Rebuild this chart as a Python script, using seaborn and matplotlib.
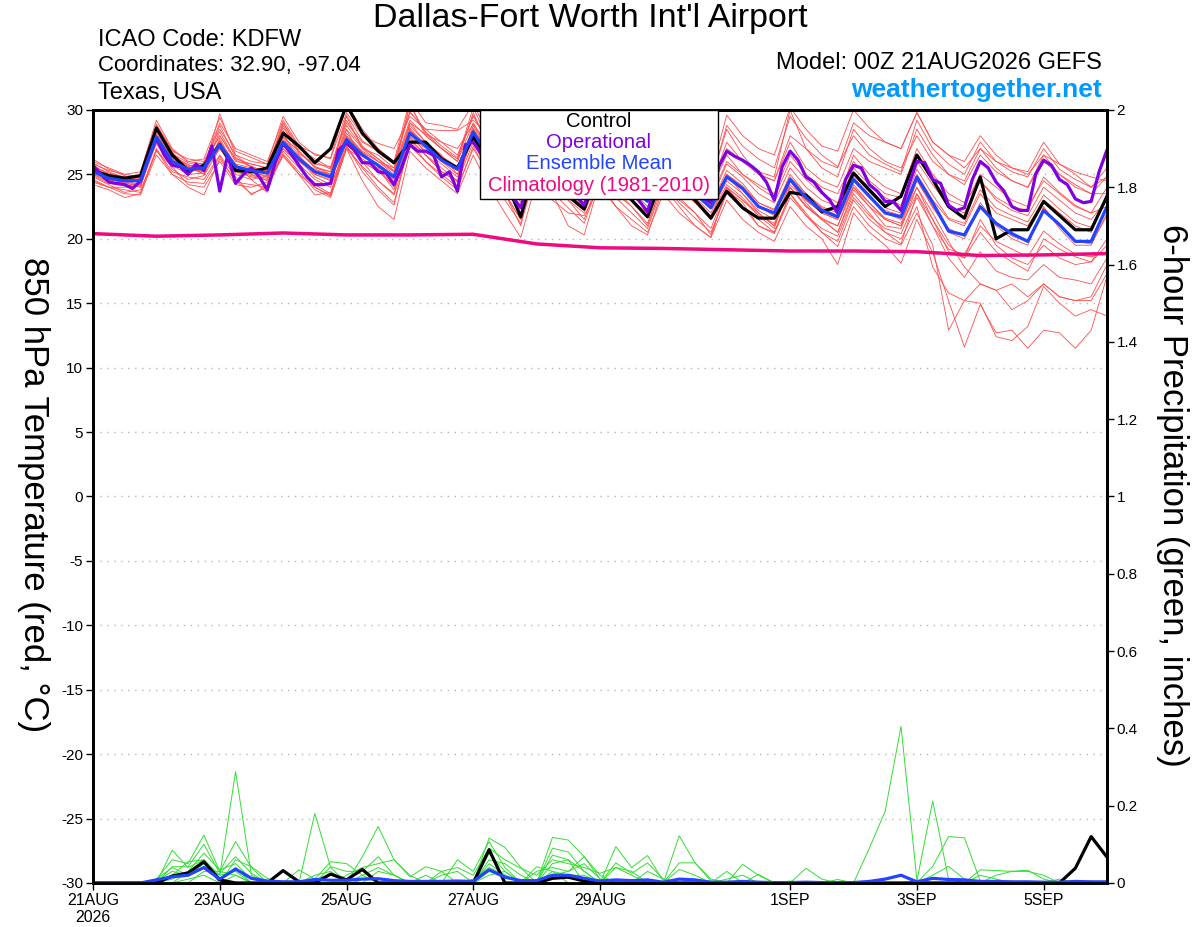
import matplotlib
matplotlib.use('Agg')
import matplotlib.pyplot as plt
import matplotlib.patches as mpatches
import numpy as np
import pandas as pd
import seaborn as sns

#%% data (6-hourly steps from 00Z 21AUG2026, 65 steps)
start = '2026-08-21 00:00'
times = pd.date_range(start, periods=65, freq='6h')
op_times = pd.date_range(start, periods=129, freq='3h')
clim_times = pd.date_range(start, periods=17, freq='1D')

tick_dates = ['2026-08-21', '2026-08-23', '2026-08-25', '2026-08-27',
              '2026-08-29', '2026-09-01', '2026-09-03', '2026-09-05']
tick_labels = ['21AUG\n2026', '23AUG', '25AUG', '27AUG', '29AUG', '1SEP', '3SEP', '5SEP']

# control run 850 hPa temperature
control_t = [25.3, 24.9, 24.7, 24.9, 28.6, 26.5, 25.3, 25.7, 27.3, 25.3, 25.2, 25.5, 28.2, 27.2, 25.9, 27.0,
             30.4, 28.2, 26.8, 25.9, 27.5, 27.5, 26.2, 25.5, 27.9, 26.0, 24.6, 21.7, 26.2, 24.8, 23.3, 22.3,
             25.8, 24.2, 23.0, 21.7, 25.0, 24.0, 23.0, 21.6, 23.7, 22.4, 21.6, 21.6, 23.6, 23.4, 22.1, 22.5,
             25.1, 23.8, 22.5, 23.3, 26.5, 24.6, 22.5, 21.6, 24.8, 20.0, 20.7, 20.7, 22.9, 21.8, 20.7, 20.7,
             23.3]

# ensemble mean
mean_t = [25.2, 24.7, 24.5, 24.5, 27.9, 26.0, 25.4, 25.5, 27.3, 25.6, 25.3, 25.1, 27.5, 26.2, 25.2, 24.8,
          27.7, 26.5, 25.7, 24.8, 28.2, 27.2, 26.1, 25.4, 28.3, 26.3, 25.0, 23.2, 26.8, 25.5, 24.5, 23.3,
          26.3, 25.0, 24.0, 22.9, 25.8, 24.6, 23.5, 22.4, 24.8, 23.9, 22.5, 22.0, 24.6, 23.2, 22.2, 21.7,
          24.6, 23.3, 22.0, 21.7, 24.8, 22.8, 20.6, 20.3, 22.5, 21.2, 20.4, 19.8, 22.2, 21.1, 19.8, 19.8,
          22.5]

# operational run (3-hourly)
oper_t = [25.7, 25.0, 24.4, 24.3, 24.2, 23.9, 24.5, 26.2, 27.8, 26.5, 25.7, 25.6, 25.0, 25.8, 25.3, 27.2,
          23.7, 26.5, 24.3, 25.0, 25.5, 24.8, 23.8, 25.9, 27.4, 26.6, 25.7, 24.8, 24.2, 24.2, 24.3, 26.9,
          27.4, 26.9, 25.9, 25.9, 25.2, 25.1, 24.2, 25.6, 27.3, 26.8, 26.8, 26.5, 24.8, 25.2, 23.7, 27.3,
          27.5, 26.6, 25.6, 24.9, 24.0, 23.2, 22.4, 24.5, 26.6, 26.2, 25.3, 24.6, 23.9, 23.3, 22.6, 24.4,
          26.4, 26.0, 25.1, 24.3, 23.6, 22.9, 22.1, 24.1, 26.3, 25.9, 25.0, 24.2, 23.6, 23.2, 22.8, 25.6,
          26.8, 26.4, 26.1, 25.7, 25.2, 24.4, 23.0, 25.6, 26.8, 26.1, 24.8, 24.4, 23.6, 23.0, 22.0, 24.6,
          25.7, 25.5, 24.2, 23.7, 22.9, 22.9, 22.2, 24.2, 26.0, 25.9, 24.6, 24.3, 22.6, 22.2, 22.4, 24.6,
          26.0, 25.5, 24.4, 23.7, 22.5, 22.2, 22.2, 25.0, 26.1, 25.7, 24.6, 24.2, 23.1, 22.8, 22.9, 25.2,
          26.9]

# climatology 1981-2010 (daily)
clim_t = [20.4, 20.2, 20.3, 20.45, 20.3, 20.3, 20.35, 19.6, 19.3, 19.25, 19.15, 19.05, 19.05, 19.0,
          18.7, 18.75, 18.85]

# ensemble members
mem01 = [25.8, 25.3, 25.0, 25.2, 29.2, 27.0, 26.0, 26.2, 29.4, 26.8, 26.3, 25.8, 29.5, 27.5, 26.5, 26.3,
         30.5, 28.5, 27.0, 26.0, 30.8, 29.0, 28.8, 28.5, 30.5, 28.0, 26.5, 25.0, 29.0, 27.5, 26.5, 25.5,
         28.8, 27.0, 26.0, 25.5, 28.5, 27.0, 26.0, 25.0, 29.6, 28.0, 27.0, 26.5, 30.2, 28.5, 27.2, 26.8,
         30.0, 28.6, 27.5, 27.0, 29.8, 27.5, 26.5, 26.0, 28.0, 26.5, 25.5, 25.2, 27.5, 25.8, 25.2, 24.8,
         24.5]
mem02 = [24.2, 23.8, 23.2, 23.5, 26.5, 25.0, 24.0, 23.4, 26.2, 24.5, 23.5, 24.0, 26.5, 25.0, 24.0, 23.3,
         27.0, 24.5, 22.5, 21.5, 26.8, 25.5, 24.5, 23.5, 26.5, 24.0, 22.0, 20.1, 24.5, 23.0, 22.0, 21.8,
         24.0, 22.5, 21.5, 20.5, 23.5, 22.0, 21.0, 20.1, 23.0, 21.5, 20.5, 19.8, 22.5, 21.0, 20.0, 18.0,
         22.0, 20.5, 19.5, 18.1, 21.5, 18.9, 15.2, 11.6, 14.9, 12.7, 12.9, 11.5, 12.9, 12.7, 11.5, 12.9,
         17.1]
mem03 = [25.5, 24.8, 24.2, 24.0, 28.0, 26.3, 25.8, 25.0, 27.8, 25.5, 25.0, 24.5, 28.0, 26.5, 25.0, 24.5,
         28.5, 26.0, 25.5, 24.0, 29.0, 27.5, 26.5, 25.0, 28.5, 26.0, 24.5, 22.5, 26.5, 25.0, 23.8, 22.5,
         25.5, 24.5, 23.0, 21.8, 25.0, 24.0, 23.0, 21.5, 25.0, 23.5, 22.0, 21.0, 24.0, 22.5, 21.5, 20.5,
         23.5, 22.0, 20.5, 20.0, 22.5, 17.8, 15.8, 15.2, 16.5, 16.0, 14.5, 15.2, 16.5, 15.5, 15.2, 15.2,
         17.3]
mem04 = [26.0, 25.5, 25.0, 24.8, 28.8, 26.8, 26.2, 26.0, 28.5, 26.5, 26.0, 25.8, 28.6, 27.0, 26.2, 25.5,
         29.0, 27.5, 26.8, 25.8, 29.8, 28.5, 27.5, 26.5, 29.5, 27.5, 26.0, 24.5, 28.5, 27.0, 25.5, 24.8,
         28.0, 26.5, 25.0, 24.0, 27.5, 26.0, 24.8, 23.8, 26.5, 25.0, 24.2, 23.5, 26.5, 25.0, 24.0, 23.5,
         26.0, 24.5, 23.5, 23.2, 26.5, 24.5, 23.0, 22.5, 25.0, 24.0, 23.0, 22.5, 24.5, 23.5, 22.5, 22.0,
         24.0]
mem05 = [24.6, 24.0, 23.8, 23.6, 27.0, 25.2, 24.8, 24.6, 26.5, 24.8, 23.4, 24.2, 26.8, 25.5, 24.2, 23.5,
         27.2, 25.5, 24.0, 22.8, 27.5, 26.0, 25.0, 24.0, 27.0, 25.0, 23.5, 21.5, 25.5, 24.0, 23.0, 22.0,
         25.0, 23.5, 22.5, 21.2, 24.5, 23.0, 22.0, 20.8, 24.0, 22.5, 21.5, 20.5, 23.5, 22.0, 20.5, 19.4,
         22.5, 21.0, 20.0, 19.5, 22.0, 19.5, 12.9, 15.2, 15.0, 12.4, 12.1, 13.2, 16.3, 15.0, 14.0, 14.5,
         14.0]
mem06 = [25.0, 24.5, 24.6, 24.8, 28.4, 26.5, 25.0, 25.8, 28.0, 26.2, 25.8, 25.5, 29.0, 26.8, 25.6, 25.2,
         29.5, 27.0, 26.0, 25.5, 30.5, 28.0, 27.0, 26.0, 29.8, 27.0, 25.5, 24.0, 28.0, 26.5, 25.0, 24.0,
         27.5, 26.0, 25.0, 24.5, 27.0, 25.5, 24.5, 24.0, 27.5, 26.0, 25.0, 24.5, 28.0, 27.0, 26.0, 25.5,
         29.0, 28.0, 27.5, 27.0, 29.8, 27.5, 26.5, 25.5, 27.0, 26.0, 25.5, 25.0, 26.5, 25.8, 25.0, 24.0,
         25.5]
mem07 = [25.2, 24.6, 24.4, 24.2, 27.8, 26.0, 25.4, 25.2, 27.5, 25.4, 25.2, 24.8, 27.2, 26.0, 25.0, 24.6,
         27.5, 26.4, 25.8, 24.6, 28.0, 27.0, 26.0, 25.0, 28.0, 26.0, 24.8, 22.8, 26.5, 25.2, 24.2, 23.0,
         26.0, 24.8, 23.8, 22.5, 25.5, 24.2, 23.2, 22.0, 24.5, 23.5, 22.2, 21.5, 24.2, 23.0, 22.0, 21.5,
         24.5, 23.2, 22.2, 21.8, 25.0, 23.0, 21.5, 21.0, 23.5, 22.0, 21.5, 21.0, 23.0, 22.0, 21.0, 20.5,
         23.5]
mem08 = [24.8, 24.2, 23.6, 23.8, 26.8, 25.6, 24.2, 24.0, 26.0, 24.2, 24.0, 24.4, 26.4, 25.0, 23.4, 23.6,
         27.2, 25.2, 23.8, 22.6, 27.6, 26.5, 25.2, 24.4, 27.5, 25.0, 23.5, 21.5, 25.8, 24.2, 23.0, 21.5,
         24.8, 23.8, 22.5, 21.0, 24.5, 23.2, 22.0, 20.3, 23.8, 22.8, 21.0, 20.5, 23.5, 21.8, 20.5, 19.8,
         23.0, 21.5, 20.5, 19.6, 23.5, 21.5, 19.5, 18.5, 21.5, 19.5, 18.5, 18.0, 19.5, 18.5, 18.0, 18.2,
         19.5]
mem09 = [25.6, 25.0, 24.8, 24.9, 28.2, 26.4, 25.6, 25.9, 28.0, 26.0, 25.8, 25.5, 27.9, 26.8, 25.5, 25.2,
         28.5, 27.0, 26.5, 25.5, 29.2, 28.0, 27.0, 26.0, 29.0, 27.0, 25.5, 23.8, 27.5, 26.2, 25.0, 23.8,
         27.0, 25.5, 24.5, 23.5, 26.5, 25.2, 24.2, 23.0, 25.8, 24.8, 23.5, 22.8, 25.5, 24.0, 23.0, 22.5,
         25.5, 24.2, 23.2, 22.6, 26.0, 24.2, 22.5, 22.0, 24.5, 23.0, 22.2, 21.8, 24.0, 23.0, 22.0, 21.5,
         23.0]
mem10 = [24.4, 24.0, 24.0, 24.1, 27.4, 25.4, 24.6, 24.9, 27.0, 25.8, 24.6, 23.6, 27.0, 25.8, 24.0, 23.4,
         28.0, 26.0, 24.5, 23.5, 28.5, 26.5, 25.5, 24.5, 28.0, 25.5, 23.5, 21.0, 26.0, 23.5, 21.0, 20.3,
         24.5, 22.5, 21.0, 20.3, 24.0, 22.5, 21.0, 20.1, 24.0, 23.0, 22.0, 21.0, 24.0, 22.5, 21.5, 20.5,
         23.8, 22.5, 21.0, 20.8, 24.0, 22.0, 19.8, 17.8, 16.5, 16.0, 16.5, 15.5, 16.5, 15.5, 15.2, 15.5,
         18.0]
mem11 = [26.2, 25.4, 24.9, 24.3, 28.9, 26.9, 26.0, 25.8, 29.0, 27.0, 26.5, 26.0, 29.2, 27.2, 26.6, 26.2,
         29.8, 28.0, 27.4, 27.0, 29.5, 28.5, 28.4, 28.4, 29.2, 28.0, 27.0, 26.0, 29.5, 28.0, 26.5, 25.5,
         29.0, 27.5, 26.5, 25.5, 28.5, 27.0, 25.5, 24.5, 28.5, 26.5, 25.0, 24.5, 27.5, 25.5, 24.5, 24.0,
         27.0, 26.0, 25.5, 25.0, 28.5, 26.5, 25.0, 24.5, 27.0, 25.5, 24.5, 24.0, 26.5, 25.0, 24.0, 23.5,
         24.8]
mem12 = [25.4, 24.9, 24.6, 24.4, 27.6, 25.8, 25.2, 25.4, 27.0, 25.2, 24.8, 24.6, 27.6, 26.2, 24.8, 24.2,
         27.0, 26.2, 25.4, 23.8, 27.8, 26.5, 25.2, 24.5, 28.2, 26.0, 24.0, 22.0, 26.0, 24.5, 23.5, 22.5,
         25.5, 24.2, 23.0, 22.0, 25.2, 24.0, 22.8, 21.5, 24.0, 23.0, 21.8, 20.8, 24.5, 22.8, 21.5, 21.0,
         24.0, 22.8, 21.5, 21.0, 24.5, 22.5, 20.5, 20.0, 22.5, 21.0, 20.0, 19.5, 22.5, 20.8, 19.5, 19.5,
         22.0]
mem13 = [25.0, 24.4, 24.2, 24.6, 28.0, 26.0, 25.6, 25.0, 27.6, 25.0, 24.6, 24.9, 28.2, 26.0, 25.4, 25.0,
         28.0, 26.8, 26.0, 25.2, 28.8, 27.5, 26.2, 25.6, 28.6, 26.5, 25.0, 23.0, 27.0, 25.5, 24.5, 23.5,
         26.5, 25.0, 24.0, 23.0, 26.0, 24.5, 23.5, 22.5, 25.0, 24.0, 22.5, 21.8, 24.5, 23.0, 22.0, 21.5,
         24.0, 22.5, 21.5, 21.0, 23.5, 21.0, 18.5, 17.0, 19.0, 17.5, 17.0, 16.8, 18.0, 17.0, 16.8, 16.5,
         18.5]
mem14 = [25.9, 25.2, 24.7, 24.5, 28.6, 26.7, 25.5, 25.4, 29.7, 26.5, 25.5, 25.3, 28.8, 26.6, 25.8, 25.6,
         29.2, 27.2, 26.2, 25.2, 30.4, 28.2, 27.0, 26.2, 30.2, 27.5, 26.0, 24.2, 28.5, 26.8, 25.8, 24.5,
         28.2, 26.5, 25.5, 24.8, 27.8, 26.5, 25.0, 24.2, 27.0, 26.0, 25.2, 24.8, 30.0, 27.0, 25.5, 24.8,
         28.5, 27.0, 26.0, 25.5, 28.0, 26.0, 25.0, 24.2, 26.5, 25.2, 24.5, 24.0, 26.0, 25.0, 24.2, 23.5,
         23.5]
mem15 = [24.9, 24.3, 24.1, 24.3, 27.5, 25.7, 25.0, 25.1, 27.2, 25.3, 24.9, 24.7, 27.0, 25.8, 24.6, 24.0,
         27.4, 26.0, 25.2, 24.2, 27.9, 26.8, 25.8, 24.8, 27.8, 25.8, 24.5, 22.4, 26.2, 24.8, 23.8, 22.8,
         25.8, 24.5, 23.4, 22.2, 25.2, 24.0, 22.8, 21.8, 24.2, 23.2, 21.8, 21.2, 24.0, 22.6, 21.6, 21.0,
         24.2, 22.8, 21.6, 21.2, 24.6, 22.4, 20.8, 20.2, 22.8, 21.2, 20.2, 19.8, 22.4, 21.0, 19.8, 19.6,
         21.8]
mem16 = [25.6, 25.1, 24.8, 24.6, 28.5, 26.6, 25.9, 25.6, 28.8, 26.3, 25.6, 25.2, 29.0, 27.1, 26.0, 25.4,
         29.6, 27.6, 26.8, 25.9, 29.9, 28.3, 27.2, 26.3, 29.6, 27.2, 25.8, 23.9, 28.6, 26.9, 25.6, 24.6,
         28.5, 26.8, 25.4, 24.4, 28.2, 26.6, 25.3, 24.4, 28.8, 27.2, 26.2, 25.5, 29.5, 27.8, 26.5, 25.6,
         28.0, 26.5, 25.8, 25.2, 29.2, 27.0, 25.8, 25.0, 27.5, 26.0, 25.2, 24.8, 27.0, 25.4, 24.6, 24.0,
         24.8]
mem17 = [25.3, 24.7, 24.3, 24.1, 27.9, 26.1, 25.3, 25.3, 27.4, 25.6, 25.1, 24.9, 27.8, 26.3, 25.2, 24.9,
         28.2, 26.7, 25.6, 24.4, 28.6, 27.2, 26.3, 25.3, 28.8, 26.6, 25.2, 23.5, 27.2, 25.8, 24.8, 23.6,
         26.8, 25.3, 24.3, 23.0, 26.2, 24.8, 23.8, 22.6, 25.3, 24.3, 22.8, 22.2, 25.0, 23.5, 22.4, 21.8,
         24.8, 23.4, 22.0, 21.5, 24.0, 21.5, 19.0, 18.5, 20.5, 19.0, 18.2, 17.5, 20.0, 19.2, 18.6, 18.2,
         20.0]
mem18 = [25.1, 24.6, 24.5, 24.7, 28.1, 26.2, 25.5, 25.6, 27.6, 25.8, 25.5, 25.3, 27.6, 26.4, 25.3, 25.0,
         27.9, 26.7, 26.0, 25.0, 28.4, 27.4, 26.4, 25.6, 28.4, 26.5, 25.2, 23.4, 27.0, 25.7, 24.7, 23.5,
         26.6, 25.2, 24.2, 23.2, 26.0, 24.8, 23.7, 22.6, 25.0, 24.1, 22.8, 22.3, 24.8, 23.5, 22.5, 22.0,
         25.0, 23.6, 22.4, 22.0, 25.4, 23.4, 21.6, 21.2, 23.8, 22.4, 21.8, 21.3, 23.4, 22.3, 21.3, 20.9,
         23.2]
mem19 = [24.5, 24.0, 23.5, 23.4, 26.9, 25.0, 24.4, 24.3, 26.4, 24.4, 24.2, 24.0, 26.6, 25.2, 23.8, 23.2,
         27.0, 25.6, 24.5, 23.4, 27.2, 26.0, 24.8, 23.8, 27.2, 24.8, 23.0, 21.2, 25.2, 23.6, 22.4, 21.2,
         24.6, 23.2, 22.0, 20.8, 24.2, 22.8, 21.6, 20.5, 23.5, 22.5, 21.0, 20.4, 23.2, 21.8, 20.8, 20.2,
         23.2, 21.8, 20.8, 20.4, 23.2, 21.0, 19.2, 18.8, 21.0, 19.8, 19.2, 18.6, 20.6, 19.6, 18.8, 18.6,
         19.0]
mem20 = [25.7, 25.0, 24.6, 24.4, 28.4, 26.5, 25.7, 25.6, 28.3, 26.1, 25.6, 25.0, 28.4, 26.8, 25.6, 25.0,
         28.8, 27.1, 26.2, 25.3, 29.0, 28.1, 27.5, 27.0, 28.9, 26.9, 25.5, 23.5, 27.8, 26.3, 25.2, 24.0,
         27.2, 25.8, 24.8, 23.8, 26.8, 25.4, 24.2, 23.2, 26.0, 25.0, 24.0, 23.2, 26.0, 24.6, 23.5, 22.8,
         26.5, 25.0, 24.0, 23.5, 27.0, 25.0, 23.5, 22.8, 24.5, 23.2, 22.5, 22.2, 24.8, 23.6, 22.6, 22.0,
         22.5]
members_t = [mem01, mem02, mem03, mem04, mem05, mem06, mem07, mem08, mem09, mem10,
             mem11, mem12, mem13, mem14, mem15, mem16, mem17, mem18, mem19, mem20]

# 6-hour precipitation (inches), control and ensemble mean
control_p = [0, 0, 0, 0, 0, 0.018, 0.026, 0.055, 0.008, 0, 0, 0, 0.032, 0.003, 0, 0.023,
             0.008, 0.035, 0, 0, 0, 0, 0, 0, 0, 0.086, 0, 0, 0, 0.012, 0.015, 0.005,
             0, 0, 0, 0, 0, 0, 0, 0, 0, 0, 0, 0, 0, 0, 0, 0,
             0, 0, 0, 0, 0, 0, 0, 0, 0, 0, 0, 0, 0, 0, 0.038, 0.12, 0.067]
mean_p = [0, 0, 0, 0, 0.008, 0.016, 0.02, 0.04, 0.01, 0.036, 0.012, 0.005, 0.003, 0.003, 0.009, 0.007,
          0.007, 0.01, 0.011, 0.006, 0.004, 0.004, 0.004, 0.005, 0.004, 0.034, 0.015, 0.006, 0.006, 0.02, 0.02, 0.012,
          0.005, 0.008, 0.006, 0.008, 0.002, 0.01, 0.008, 0.002, 0.002, 0.004, 0.002, 0.001, 0.001, 0.002, 0.001, 0.001,
          0.001, 0.004, 0.01, 0.02, 0.003, 0.012, 0.009, 0.008, 0.004, 0.004, 0.003, 0.003, 0.002, 0.002, 0.004, 0.003,
          0.003]

# member precipitation, step -> inches (zero elsewhere)
pcp01 = {5: 0.085, 6: 0.04, 7: 0.06, 8: 0.02, 9: 0.288, 10: 0.02, 25: 0.077, 26: 0.03, 29: 0.118,
         30: 0.111, 31: 0.068, 32: 0.01, 49: 0.09, 50: 0.186, 51: 0.405, 52: 0.008}
pcp02 = {4: 0.01, 5: 0.06, 6: 0.05, 7: 0.124, 8: 0.03, 9: 0.107, 10: 0.04, 14: 0.18, 15: 0.04,
         25: 0.116, 26: 0.092, 27: 0.04, 33: 0.094, 34: 0.04, 35: 0.071, 36: 0.005, 52: 0.005,
         53: 0.212, 54: 0.01}
pcp03 = {5: 0.042, 6: 0.042, 7: 0.10, 8: 0.025, 9: 0.068, 10: 0.025, 17: 0.068, 18: 0.146, 19: 0.06,
         20: 0.016, 21: 0.042, 22: 0.03, 29: 0.072, 30: 0.06, 37: 0.122, 38: 0.052, 39: 0.005,
         53: 0.043, 54: 0.12, 55: 0.117, 56: 0.005}
pcp04 = {6: 0.03, 7: 0.077, 8: 0.034, 9: 0.05, 10: 0.01, 13: 0.034, 14: 0.01, 15: 0.055, 16: 0.05,
         17: 0.02, 23: 0.06, 24: 0.03, 25: 0.107, 26: 0.04, 28: 0.042, 29: 0.03, 33: 0.052, 34: 0.025,
         35: 0.052, 36: 0.01, 56: 0.034, 57: 0.032, 58: 0.03, 59: 0.033, 60: 0.01}
pcp05 = {5: 0.02, 6: 0.055, 7: 0.06, 8: 0.01, 15: 0.042, 16: 0.03, 17: 0.03, 18: 0.068, 19: 0.02,
         21: 0.02, 25: 0.05, 26: 0.02, 29: 0.05, 30: 0.06, 31: 0.03, 37: 0.052, 38: 0.052, 39: 0.01,
         41: 0.048, 42: 0.02}
pcp06 = {4: 0.005, 5: 0.03, 6: 0.02, 7: 0.04, 8: 0.02, 9: 0.03, 16: 0.02, 17: 0.04, 18: 0.05,
         19: 0.06, 20: 0.02, 22: 0.03, 23: 0.04, 24: 0.02, 25: 0.09, 26: 0.06, 27: 0.038, 28: 0.02,
         29: 0.06, 30: 0.05, 31: 0.04, 32: 0.025, 33: 0.04, 34: 0.03, 37: 0.035, 38: 0.02, 40: 0.03,
         45: 0.038, 46: 0.01}
pcp07 = {7: 0.03, 8: 0.03, 9: 0.02, 14: 0.02, 15: 0.03, 25: 0.02, 26: 0.03, 28: 0.03, 29: 0.04,
         30: 0.03, 31: 0.068, 32: 0.02, 42: 0.022, 44: 0.005, 47: 0.009, 57: 0.02, 58: 0.03,
         59: 0.03, 60: 0.02}
pcp08 = {5: 0.01, 6: 0.03, 7: 0.05, 9: 0.06, 10: 0.042, 11: 0.012, 18: 0.03, 19: 0.02, 25: 0.06,
         26: 0.05, 27: 0.02, 29: 0.09, 30: 0.08, 31: 0.03, 33: 0.04, 34: 0.02, 50: 0.01, 51: 0.02,
         52: 0.005}
pcp09 = {6: 0.01, 7: 0.02, 9: 0.02, 14: 0.01, 15: 0.02, 16: 0.01, 22: 0.02, 23: 0.03, 25: 0.03,
         26: 0.02, 29: 0.03, 30: 0.02, 31: 0.02, 40: 0.01, 41: 0.02, 53: 0.02, 54: 0.043, 55: 0.01,
         62: 0.005}
pcp10 = {4: 0.01, 5: 0.04, 6: 0.02, 7: 0.05, 8: 0.01, 9: 0.04, 17: 0.02, 18: 0.04, 19: 0.02,
         24: 0.01, 25: 0.04, 26: 0.02, 29: 0.02, 30: 0.03, 31: 0.05, 32: 0.01, 35: 0.03, 36: 0.01,
         56: 0.02, 57: 0.01, 61: 0.01}
members_p = [pcp01, pcp02, pcp03, pcp04, pcp05, pcp06, pcp07, pcp08, pcp09, pcp10]

#%% long-form tables for seaborn
temp_df = pd.concat([pd.DataFrame({'time': times, 'temp': m, 'member': k})
                     for k, m in enumerate(members_t)], ignore_index=True)

pcp_rows = []
for k, d in enumerate(members_p):
    vals = np.zeros(len(times))
    for step, v in d.items():
        vals[step] = v
    pcp_rows.append(pd.DataFrame({'time': times, 'pcp': vals, 'member': k}))
pcp_df = pd.concat(pcp_rows, ignore_index=True)

#%% make graph
sns.set_theme(style='ticks', rc={'axes.edgecolor': 'black', 'xtick.color': 'black',
                                  'ytick.color': 'black', 'axes.linewidth': 2,
                                  'text.color': 'black', 'axes.labelcolor': 'black'})
plt.rcParams['font.family'] = ['Liberation Sans', 'DejaVu Sans']
plt.rcParams['axes.unicode_minus'] = False

fig = plt.figure(figsize=(12, 9.27), dpi=100)
ax = fig.add_axes([0.0775, 0.0475, 0.845, 0.8339])
ax2 = ax.twinx()

# temperature
for v in range(-25, 30, 5):
    ax.axhline(v, color='#b5b5b5', ls=(0, (1, 4)), lw=1, zorder=0)
sns.lineplot(data=temp_df, x='time', y='temp', units='member', estimator=None,
             color='#ff4d4d', lw=0.6, ax=ax, legend=False)
sns.lineplot(x=clim_times, y=clim_t, color='#ee0a80', lw=2.5, ax=ax)
sns.lineplot(x=times, y=control_t, color='black', lw=2.3, ax=ax)
sns.lineplot(x=op_times, y=oper_t, color='#7f00e0', lw=2.3, ax=ax)
sns.lineplot(x=times, y=mean_t, color='#2244ff', lw=2.3, ax=ax)

# precipitation
sns.lineplot(data=pcp_df, x='time', y='pcp', units='member', estimator=None,
             color='#33dd33', lw=0.7, ax=ax2, legend=False)
sns.lineplot(x=times, y=control_p, color='black', lw=2.3, ax=ax2)
sns.lineplot(x=times, y=mean_p, color='#2244ff', lw=2.3, ax=ax2)

ax.set_xlim(times[0], times[-1])
ax.set_ylim(-30, 30)
ax2.set_ylim(0, 2)
ax.set_yticks(range(-30, 31, 5))
ax.set_yticklabels([str(v) for v in range(-30, 31, 5)])
p_ticks = np.round(np.arange(0, 2.01, 0.2), 1)
ax2.set_yticks(p_ticks)
ax2.set_yticklabels(['%g' % v for v in p_ticks])
ax.set_xticks(pd.to_datetime(tick_dates))
ax.set_xticklabels(tick_labels)
ax.set_xlabel('')
ax.set_ylabel('')
ax2.set_ylabel('')
for a in (ax, ax2):
    a.tick_params(direction='out', length=5, width=1, labelsize=11, pad=2, labelcolor='black')
    for s in a.spines.values():
        s.set_linewidth(2)
        s.set_color('black')
ax.tick_params(axis='x', labelsize=11.4)

# legend box
ax2.add_patch(mpatches.Rectangle((0.3817, 0.8849), 0.2347, 0.1151, transform=ax2.transAxes,
                                 fc='white', ec='black', lw=1, zorder=10, clip_on=False))
for txt, col, yy in [('Control', 'black', 0.9845), ('Operational', '#7f00e0', 0.9573),
                     ('Ensemble Mean', '#2244ff', 0.9302), ('Climatology (1981-2010)', '#ee0a80', 0.9017)]:
    ax2.text(0.499, yy, txt, color=col, fontsize=14.6, ha='center', va='center',
             transform=ax2.transAxes, zorder=11)

# header texts
fig.text(590 / 1200, 1 - 18 / 927, "Dallas-Fort Worth Int'l Airport", fontsize=24.5, ha='center', va='center')
fig.text(98 / 1200, 1 - 40 / 927, 'ICAO Code: KDFW', fontsize=17, ha='left', va='center')
fig.text(98 / 1200, 1 - 66 / 927, 'Coordinates: 32.90, -97.04', fontsize=16, ha='left', va='center')
fig.text(98 / 1200, 1 - 93 / 927, 'Texas, USA', fontsize=17, ha='left', va='center')
fig.text(1102 / 1200, 1 - 63 / 927, 'Model: 00Z 21AUG2026 GEFS', fontsize=17, ha='right', va='center')
fig.text(1102 / 1200, 1 - 90 / 927, 'weathertogether.net', fontsize=19, fontweight='bold',
         color='#0099ff', ha='right', va='center')
fig.text(33 / 1200, 1 - 495 / 927, '850 hPa Temperature (red, \u00b0C)', fontsize=25,
         rotation=270, ha='center', va='center')
fig.text(1172 / 1200, 1 - 495 / 927, '6-hour Precipitation (green, inches)', fontsize=25,
         rotation=270, ha='center', va='center')

plt.savefig('out.png', dpi=100)
